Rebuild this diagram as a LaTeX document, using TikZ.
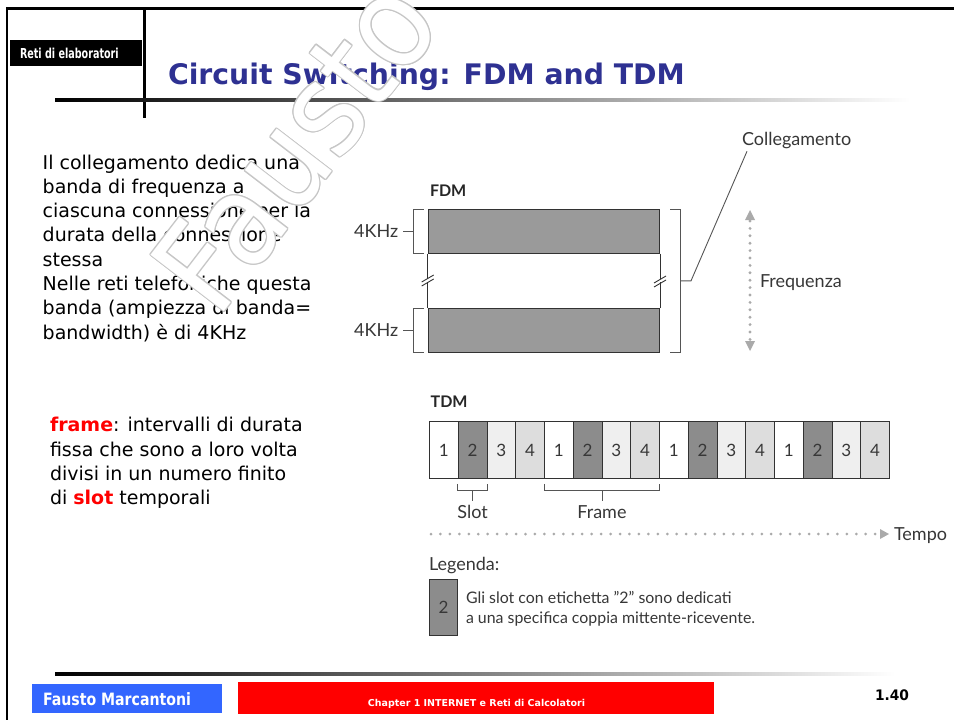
\documentclass[tikz,border=0pt]{standalone}
\usepackage{fontspec}
\usepackage{graphicx}
\usetikzlibrary{calc}
\setmainfont{DejaVu Sans}
\newfontfamily\lato{Lato}
\newcommand\setfs[2]{\fontsize{#1}{#2}\selectfont}

\definecolor{titleblue}{RGB}{46,49,146}
\definecolor{footblue}{RGB}{51,102,255}
\definecolor{dtext}{RGB}{55,55,55}
\definecolor{dline}{RGB}{85,85,85}
\definecolor{dedge}{RGB}{50,50,50}
\definecolor{bandgray}{RGB}{154,154,154}
\definecolor{slotA}{RGB}{255,255,255}
\definecolor{slotB}{RGB}{140,140,140}
\definecolor{slotC}{RGB}{239,239,239}
\definecolor{slotD}{RGB}{221,221,221}
\definecolor{dotgray}{RGB}{170,170,170}
\definecolor{wmgray}{RGB}{198,198,198}

\begin{document}
\begin{tikzpicture}[x=1pt,y=-1pt,
  txt/.style={inner sep=0pt, outer sep=0pt},
  bodyline/.style={txt, anchor=base west, font=\setfs{19}{24}},
  diagtext/.style={txt, text=dtext, font=\lato\setfs{18}{20}},
  diaghead/.style={txt, anchor=base west, text=black!85, font=\lato\bfseries\setfs{16}{20}},
  brk/.style={draw=dline, line width=0.9pt},
  band/.style={draw=dedge, fill=bandgray, line width=1pt, inner sep=0pt,
    minimum width=231.3pt, minimum height=43.7pt, anchor=north west},
  slotbox/.style={draw=dedge, line width=0.9pt, inner sep=0pt, anchor=north west,
    minimum width=28.75pt, minimum height=57pt, text=dtext, font=\lato\setfs{17}{20}},
  wm/.style={txt, rotate=52.5, font=\setfs{127}{127}},
]
\useasboundingbox (0,0) rectangle (954,720);
\fill[white] (0,0) rectangle (954,720);

% ---------- slide frame and header ----------
\draw[line width=2.6pt, line join=miter] (7,720) -- (7,8.7) -- (954,8.7);
\draw[line width=3pt] (144,8.7) -- (144,118);
\shade[left color=black, right color=white] (55,98.5) rectangle (910,101.5);
\node[fill=black, minimum width=132pt, minimum height=26pt, inner sep=0pt, anchor=north west] (hdrbox) at (10,40) {};
\node[txt, anchor=base west, text=white, font=\bfseries\setfs{13.7}{14}] (hdr) at (20,58.3)
  {\scalebox{0.7}[1]{Reti di elaboratori}};
\node[txt, anchor=base west, text=titleblue, font=\bfseries\setfs{28.3}{30}] (title) at (168,84)
  {Circuit Switching: FDM and TDM};

% ---------- left column text ----------
\node[bodyline] (p1) at (42.7,169.0) {Il collegamento dedica una};
\node[bodyline] (p2) at (42.7,193.3) {banda di frequenza a};
\node[bodyline] (p3) at (42.7,217.6) {ciascuna connessione per la};
\node[bodyline] (p4) at (42.7,241.9) {durata della connessione};
\node[bodyline] (p5) at (42.7,266.2) {stessa};
\node[bodyline] (p6) at (42.7,290.5) {Nelle reti telefoniche questa};
\node[bodyline] (p7) at (42.7,314.8) {banda (ampiezza di banda=};
\node[bodyline] (p8) at (42.7,339.1) {bandwidth) è di 4KHz};

\node[bodyline] (q1) at (50,431.7) {\textcolor{red}{\bfseries frame}: intervalli di durata};
\node[bodyline] (q2) at (50,456.0) {fissa che sono a loro volta};
\node[bodyline] (q3) at (50,480.3) {divisi in un numero finito};
\node[bodyline] (q4) at (50,504.6) {di \textcolor{red}{\bfseries slot} temporali};

% ---------- FDM ----------
\node[diaghead] (fdm) at (430,196.7) {FDM};
\node[band] (b1) at (427.7,209) {};
\node[band] (b2) at (427.7,308) {};
% channel sides with break marks
\draw[draw=dedge, line width=1pt] (b1.south west) -- ++(0,24.8);
\draw[draw=dedge, line width=1pt] (b2.north west) -- ++(0,-26.5);
\draw[draw=dedge, line width=1pt] (b1.south east) -- ++(0,24.8);
\draw[draw=dedge, line width=1pt] (b2.north east) -- ++(0,-26.5);
\draw[draw=dedge, line width=0.9pt] (b1.south west) ++(-6,28.3) -- ++(12,-7);
\draw[draw=dedge, line width=0.9pt] (b1.south west) ++(-6,32.3) -- ++(12,-7);
\draw[draw=dedge, line width=0.9pt] (b1.south east) ++(-6,29.3) -- ++(12,-7);
\draw[draw=dedge, line width=0.9pt] (b1.south east) ++(-6,33.3) -- ++(12,-7);
% bandwidth brackets
\draw[brk] ($(b1.north west)+(-4.2,0)$) -- ($(b1.north west)+(-14.4,0)$)
  -- ($(b1.south west)+(-14.4,0)$) -- ($(b1.south west)+(-4.2,0)$);
\draw[brk] ($(b1.west)+(-14.4,0)$) -- ($(b1.west)+(-24.7,0)$);
\node[diagtext, anchor=base east] (k1) at ($(b1.west)+(-29.5,6)$) {4KHz};
\draw[brk] ($(b2.north west)+(-4.2,0)$) -- ($(b2.north west)+(-14.4,0)$)
  -- ($(b2.south west)+(-14.4,0)$) -- ($(b2.south west)+(-4.2,0)$);
\draw[brk] ($(b2.west)+(-14.4,0)$) -- ($(b2.west)+(-24.7,0)$);
\node[diagtext, anchor=base east] (k2) at ($(b2.west)+(-29.5,6)$) {4KHz};
% link bracket
\draw[brk] ($(b1.north east)+(10,0)$) -- ($(b1.north east)+(20,0)$)
  -- ($(b2.south east)+(20,0)$) -- ($(b2.south east)+(10,0)$);
\coordinate (lk) at ($($(b1.north east)!0.5!(b2.south east)$)+(20,0)$);
\node[diagtext, anchor=base west] (coll) at (742,145) {Collegamento};
\draw[brk] (lk) -- ++(11,0) -- ($(coll.south west)+(5,3)$);
% frequency axis
\coordinate (ftop) at (750,210);
\coordinate (fbot) at (750,351);
\foreach \k in {0,...,16} \fill[dotgray] ($(ftop)+(0,11+\k*7.4)$) circle (1.6);
\fill[dotgray] (ftop) -- ++(-5,10) -- ++(10,0) -- cycle;
\fill[dotgray] (fbot) -- ++(-5,-10) -- ++(10,0) -- cycle;
\node[diagtext, anchor=base west] (freq) at (760,287) {Frequenza};

% ---------- TDM ----------
\node[diaghead] (tdm) at (430.7,407.3) {TDM};
\foreach \i in {0,...,15} {
  \pgfmathtruncatemacro{\ch}{mod(\i,4)+1}
  \ifcase\ch\or\def\slotfill{slotA}\or\def\slotfill{slotB}\or\def\slotfill{slotC}\or\def\slotfill{slotD}\fi
  \node[slotbox, fill=\slotfill] (s\i) at (429+\i*28.75,421) {\ch};
}
% slot and frame brackets
\draw[brk] ($(s1.south west)+(0,5)$) -- ($(s1.south west)+(0,12)$)
  -- ($(s1.south east)+(0,12)$) -- ($(s1.south east)+(0,5)$);
\draw[brk] ($(s1.south)+(0,12)$) -- ($(s1.south)+(0,22)$);
\node[diagtext, anchor=base] (slotlbl) at ($(s1.south)+(0,40)$) {Slot};
\draw[brk] ($(s4.south west)+(0,5)$) -- ($(s4.south west)+(0,12)$)
  -- ($(s7.south east)+(0,12)$) -- ($(s7.south east)+(0,5)$);
\coordinate (fmid) at ($(s4.south west)!0.5!(s7.south east)$);
\draw[brk] ($(fmid)+(0,12)$) -- ($(fmid)+(0,22)$);
\node[diagtext, anchor=base] (framelbl) at ($(fmid)+(0,40)$) {Frame};
% time axis
\coordinate (tstart) at (431,534);
\coordinate (ttip) at (889,534);
\foreach \k in {0,...,47} \fill[dotgray] ($(tstart)+(\k*9.45,0)$) circle (1.5);
\fill[dotgray] (ttip) -- ++(-9,-5) -- ++(0,10) -- cycle;
\node[diagtext, anchor=base west] (tempo) at (894,540) {Tempo};

% ---------- legend ----------
\node[diagtext, anchor=base west] (leg) at (429,570) {Legenda:};
\node[slotbox, fill=slotB, minimum width=28pt, minimum height=56pt] (legbox) at (429,579) {2};
\node[diagtext, anchor=base west, font=\lato\setfs{15.9}{20}] (leg1) at (466,603)
  {Gli slot con etichetta ”2” sono dedicati};
\node[diagtext, anchor=base west, font=\lato\setfs{15.9}{20}] (leg2) at (466,623)
  {a una specifica coppia mittente-ricevente.};

% ---------- footer ----------
\shade[left color=black, right color=white] (55,672.5) rectangle (895,675.5);
\node[fill=footblue, minimum width=190pt, minimum height=29pt, inner sep=0pt, anchor=north west] (authbox) at (32,684) {};
\node[txt, anchor=base west, text=white, font=\bfseries\setfs{17}{18}] (auth) at (43,705)
  {\scalebox{0.83}[1]{Fausto Marcantoni}};
\node[fill=red, minimum width=476pt, minimum height=32pt, inner sep=0pt, anchor=north west] (chapbox) at (238,682) {};
\node[txt, anchor=base, text=white, font=\bfseries\setfs{9.5}{10}] (chap) at (476.5,706.5)
  {Chapter 1 INTERNET e Reti di Calcolatori};
\node[txt, anchor=base west, font=\bfseries\setfs{14.5}{15}] (pg) at (875,700.5)
  {\scalebox{0.95}[1]{1.40}};

% ---------- outlined watermark ----------
\foreach \a [count=\k] in {0,30,...,330}
  \node[wm, text=wmgray] (wmo\k) at ({295+1.1*cos(\a)},{145+1.1*sin(\a)}) {\scalebox{0.9}[1]{Fausto}};
\node[wm, text=white] (wmark) at (295,145) {\scalebox{0.9}[1]{Fausto}};
\end{tikzpicture}
\end{document}
